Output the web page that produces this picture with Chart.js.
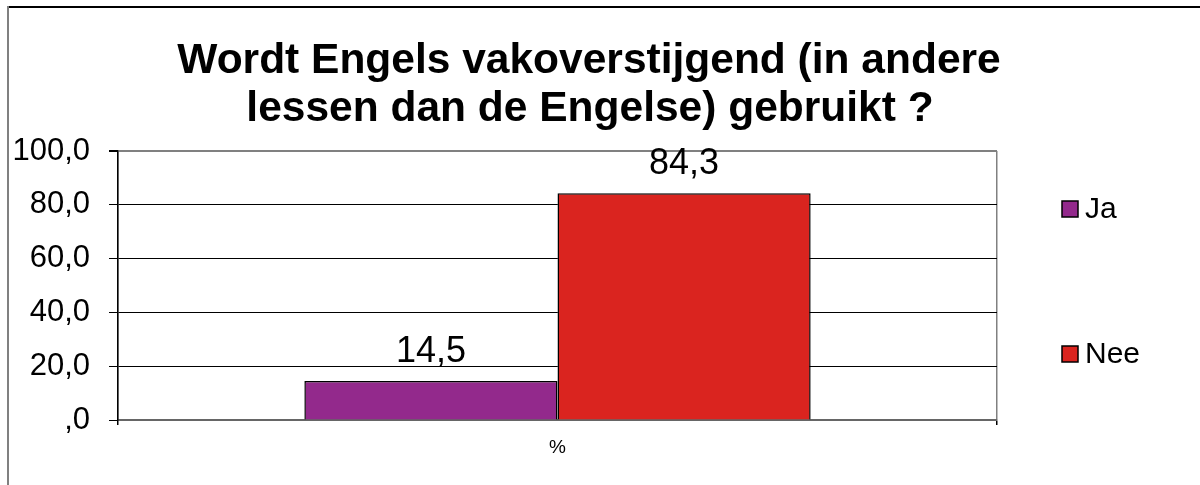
<!DOCTYPE html>
<html>
<head>
<meta charset="utf-8">
<script src="https://cdn.jsdelivr.net/npm/chart.js@4/dist/chart.umd.min.js"></script>
<style>
  html, body { margin: 0; padding: 0; background: #fff; }
  #wrap { width: 1200px; height: 485px; position: relative; }
</style>
</head>
<body>
<div id="wrap"><canvas id="chart"></canvas></div>
<script>
const titleLines = ["Wordt Engels vakoverstijgend (in andere", "lessen dan de Engelse) gebruikt ?"];
const categories = ["%"];
const seriesNames = ["Ja", "Nee"];
const jaValues = [14.5];
const neeValues = [84.3];
const yTicks = [0, 20, 40, 60, 80, 100];
const seriesColors = ["#93298C", "#DA241F"];

const FONT = "'Liberation Sans', Arial, sans-serif";

function fmt(v) {
  const s = v.toFixed(1).replace(".", ",");
  return s.startsWith("0,") ? s.slice(1) : s;
}

// frame, title, labels above the bars, legend on the right
const decor = {
  id: "decor",
  beforeDraw(chart) {
    const ctx = chart.ctx;
    ctx.save();
    ctx.fillStyle = "#fff";
    ctx.fillRect(0, 0, chart.width, chart.height);
    ctx.lineWidth = 2;
    ctx.strokeStyle = "#000";
    ctx.beginPath(); ctx.moveTo(7, 7); ctx.lineTo(1200, 7); ctx.stroke();
    ctx.strokeStyle = "#808080";
    ctx.beginPath(); ctx.moveTo(8, 6); ctx.lineTo(8, 485); ctx.stroke();
    ctx.restore();
  },
  afterDraw(chart) {
    const ctx = chart.ctx;
    ctx.save();
    ctx.fillStyle = "#000";
    ctx.textAlign = "center";
    ctx.textBaseline = "alphabetic";
    ctx.font = "bold 42.5px " + FONT;
    ctx.fillText(titleLines[0], 589, 73);
    ctx.fillText(titleLines[1], 590, 121);

    ctx.font = "36px " + FONT;
    chart.data.datasets.forEach((ds, i) => {
      chart.getDatasetMeta(i).data.forEach((bar, j) => {
        ctx.fillText(fmt(ds.data[j]), bar.x, bar.y - 19);
      });
    });

    ctx.textAlign = "left";
    ctx.textBaseline = "middle";
    ctx.font = "30px " + FONT;
    const legendY = [209, 354];
    chart.data.datasets.forEach((ds, i) => {
      const y = legendY[i];
      ctx.fillStyle = ds.backgroundColor;
      ctx.fillRect(1062, y - 8, 16, 16);
      ctx.lineWidth = 1.5;
      ctx.strokeStyle = "#000";
      ctx.strokeRect(1062, y - 8, 16, 16);
      ctx.fillStyle = "#000";
      ctx.fillText(ds.label, 1085, y + 1);
    });
    ctx.restore();
  }
};

new Chart(document.getElementById("chart"), {
  type: "bar",
  data: {
    labels: categories,
    datasets: [
      { label: seriesNames[0], data: jaValues, backgroundColor: seriesColors[0], borderColor: "#000", borderWidth: 1.5 },
      { label: seriesNames[1], data: neeValues, backgroundColor: seriesColors[1], borderColor: "#000", borderWidth: 1.5 }
    ]
  },
  options: {
    responsive: true,
    maintainAspectRatio: false,
    animation: false,
    layout: { padding: { left: 7, top: 151, right: 203, bottom: 25 } },
    datasets: { bar: { categoryPercentage: 0.576, barPercentage: 1 } },
    plugins: { legend: { display: false }, title: { display: false }, tooltip: { enabled: false } },
    scales: {
      x: {
        afterFit: s => { s.height = 40; },
        grid: { offset: true, color: "#808080", lineWidth: 1.5, tickLength: 5, tickColor: "#000" },
        border: { color: "#666", width: 2 },
        ticks: { color: "#000", padding: 11, font: { family: FONT, size: 19 } }
      },
      y: {
        min: 0,
        max: 100,
        afterFit: s => { s.width = 111; },
        afterBuildTicks: s => { s.ticks = yTicks.map(v => ({ value: v })); },
        grid: {
          color: c => (c.tick && c.tick.value === 100 ? "#808080" : "#000"),
          tickColor: "#000",
          lineWidth: c => (c.tick && c.tick.value === 100 ? 2 : 1),
          tickLength: 9
        },
        border: { color: "#000", width: 1.5 },
        ticks: {
          color: "#000",
          padding: 19,
          font: { family: FONT, size: 31 },
          callback: v => fmt(v)
        }
      }
    }
  },
  plugins: [decor]
});
</script>
</body>
</html>
